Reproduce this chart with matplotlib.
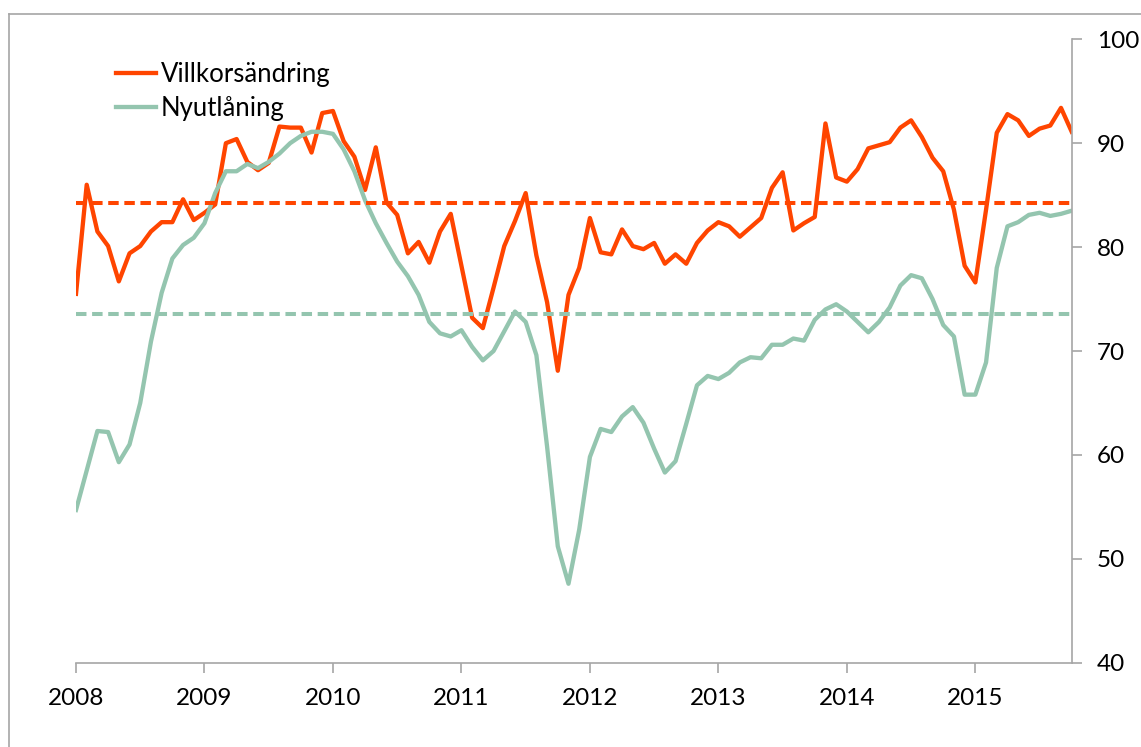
import numpy as np
import matplotlib
matplotlib.use("Agg")
import matplotlib.pyplot as plt
from matplotlib.lines import Line2D

plt.rcParams['font.family'] = ['Lato', 'DejaVu Sans']

# monthly values, Jan 2008 - Oct 2015
villkor = [75.5, 86.0, 81.5, 80.1, 76.7, 79.4, 80.1, 81.5, 82.4, 82.4, 84.6, 82.6,
           83.3, 84.1, 90.0, 90.4, 88.2, 87.4, 88.1, 91.6, 91.5, 91.5, 89.1, 92.9,
           93.1, 90.2, 88.7, 85.5, 89.6, 84.3, 83.1, 79.4, 80.5, 78.5, 81.5, 83.2,
           78.2, 73.2, 72.2, 76.1, 80.1, 82.5, 85.2, 79.2, 74.7, 68.1, 75.4, 78.0,
           82.8, 79.5, 79.3, 81.7, 80.1, 79.8, 80.4, 78.4, 79.3, 78.4, 80.4, 81.6,
           82.4, 82.0, 81.0, 81.9, 82.8, 85.7, 87.2, 81.6, 82.3, 82.9, 91.9, 86.7,
           86.3, 87.5, 89.5, 89.8, 90.1, 91.5, 92.2, 90.6, 88.6, 87.3, 83.6, 78.2,
           76.6, 83.6, 91.0, 92.8, 92.2, 90.7, 91.4, 91.7, 93.4, 91.1]
nyutl = [54.7, 58.5, 62.3, 62.2, 59.3, 61.0, 65.0, 70.9, 75.6, 78.9, 80.2, 80.9,
         82.3, 85.2, 87.3, 87.3, 88.0, 87.6, 88.2, 89.0, 90.0, 90.7, 91.1, 91.1,
         90.9, 89.4, 87.3, 84.5, 82.3, 80.4, 78.6, 77.2, 75.4, 72.8, 71.7, 71.4,
         72.0, 70.4, 69.1, 70.0, 71.9, 73.8, 72.8, 69.6, 60.8, 51.2, 47.6, 52.8,
         59.8, 62.5, 62.2, 63.7, 64.6, 63.1, 60.6, 58.3, 59.4, 63.0, 66.7, 67.6,
         67.3, 67.9, 68.9, 69.4, 69.3, 70.6, 70.6, 71.2, 71.0, 73.0, 74.0, 74.5,
         73.8, 72.8, 71.8, 72.8, 74.2, 76.3, 77.3, 77.0, 75.0, 72.5, 71.4, 65.8,
         65.8, 68.9, 78.0, 82.0, 82.4, 83.1, 83.3, 83.0, 83.2, 83.5]
villkor_snitt = 84.2
nyutl_snitt = 73.6
years = [2008, 2009, 2010, 2011, 2012, 2013, 2014, 2015]

orange = '#FF4500'
green = '#94C5AF'
grey = '#A6A6A6'

x = 2008 + np.arange(len(villkor)) / 12

fig = plt.figure(figsize=(11.41, 7.47), dpi=100)
ax = fig.add_axes([76 / 1141, (747 - 662.7) / 747, (1071.7 - 76) / 1141, (662.7 - 39.3) / 747])

ax.plot(x, villkor, color=orange, lw=3.1, label='Villkorsändring')
ax.plot(x, nyutl, color=green, lw=3.1, label='Nyutlåning')
ax.axhline(villkor_snitt, color=orange, lw=2.9, dashes=(2.6, 1.4))
ax.axhline(nyutl_snitt, color=green, lw=2.9, dashes=(2.6, 1.4))

ax.set_xlim(x[0], x[-1])
ax.set_ylim(40, 100)
ax.set_xticks(years)
ax.set_xticklabels([str(y) for y in years])
ax.set_yticks(range(40, 101, 10))
ax.yaxis.tick_right()

for s in ['top', 'left']:
    ax.spines[s].set_visible(False)
for s in ['bottom', 'right']:
    ax.spines[s].set_color(grey)
    ax.spines[s].set_linewidth(1.2)
ax.tick_params(axis='both', colors=grey, labelcolor='black', labelsize=17.5,
               length=7, width=1.2, direction='out')
ax.tick_params(axis='y', pad=11)
ax.tick_params(axis='x', pad=11)

ax.legend(loc='upper left', bbox_to_anchor=(0.017, 1.0), frameon=False,
          fontsize=18.5, handlelength=1.55, handletextpad=0.2, labelspacing=0.32)

# chart frame
fig.add_artist(Line2D([9 / 1141, 9 / 1141], [0, 1 - 14 / 747], color=grey, lw=1.2))
fig.add_artist(Line2D([9 / 1141, 1], [1 - 14 / 747, 1 - 14 / 747], color=grey, lw=1.2))

fig.savefig('out.png', dpi=100)
